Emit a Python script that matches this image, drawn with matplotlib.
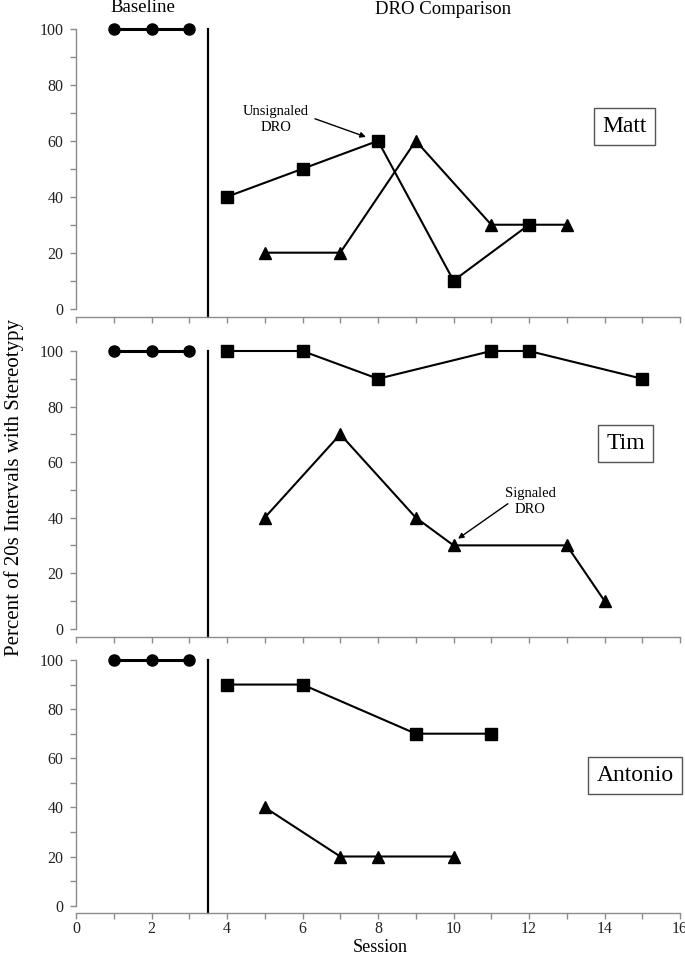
import matplotlib
matplotlib.use("Agg")
import matplotlib.pyplot as plt
from matplotlib.ticker import MultipleLocator

plt.rcParams['font.family'] = ['Liberation Serif', 'DejaVu Serif']

names = ["Matt", "Tim", "Antonio"]

baseline_x = [1, 2, 3]
baseline_y = [100, 100, 100]

matt_sq_x = [4, 6, 8, 10, 12]
matt_sq_y = [40, 50, 60, 10, 30]
matt_tri_x = [5, 7, 9, 11, 13]
matt_tri_y = [20, 20, 60, 30, 30]

tim_sq_x = [4, 6, 8, 11, 12, 15]
tim_sq_y = [100, 100, 90, 100, 100, 90]
tim_tri_x = [5, 7, 9, 10, 13, 14]
tim_tri_y = [40, 70, 40, 30, 30, 10]

ant_sq_x = [4, 6, 9, 11]
ant_sq_y = [90, 90, 70, 70]
ant_tri_x = [5, 7, 8, 10]
ant_tri_y = [40, 20, 20, 20]

x_ticks = [0, 2, 4, 6, 8, 10, 12, 14, 16]
y_ticks = [0, 20, 40, 60, 80, 100]

fig = plt.figure(figsize=(6.85, 9.56), dpi=100)
W, H = 685, 956
left = 76 / W
width = 604 / W
# (top px, bottom px)
panels_px = [(29, 317), (351, 637), (660, 913)]
series = [
    (matt_sq_x, matt_sq_y, matt_tri_x, matt_tri_y),
    (tim_sq_x, tim_sq_y, tim_tri_x, tim_tri_y),
    (ant_sq_x, ant_sq_y, ant_tri_x, ant_tri_y),
]
box_pos = [(14.53, 65.2), (14.56, 66.7), (14.81, 53.0)]
spine_col = "#8c8c8c"
axes = []
for i, ((top, bot), (sx, sy, tx, ty)) in enumerate(zip(panels_px, series)):
    ax = fig.add_axes([left, 1 - bot / H, width, (bot - top) / H])
    axes.append(ax)
    ax.set_xlim(0, 16)
    ax.set_ylim(-3, 100)
    for s in ["top", "right"]:
        ax.spines[s].set_visible(False)
    for s in ["left", "bottom"]:
        ax.spines[s].set_color(spine_col)
        ax.spines[s].set_linewidth(1.0)
    ax.spines["left"].set_bounds(0, 100)
    ax.yaxis.set_major_locator(MultipleLocator(20))
    ax.yaxis.set_minor_locator(MultipleLocator(10))
    ax.xaxis.set_major_locator(MultipleLocator(2))
    ax.xaxis.set_minor_locator(MultipleLocator(1))
    ax.tick_params(axis="both", which="both", direction="out", color=spine_col,
                   length=4, width=1.0, labelsize=11.5, labelcolor="#222222")
    ax.tick_params(axis="y", pad=5)
    if i < 2:
        ax.tick_params(axis="x", labelbottom=False)
    else:
        ax.tick_params(axis="x", pad=1.5)
        ax.set_xticks(x_ticks)
    ax.set_yticks(y_ticks)

    ax.plot(baseline_x, baseline_y, color="black", lw=2.2, marker="o", ms=8, clip_on=False, zorder=3)
    ax.plot(sx, sy, color="black", lw=1.5, marker="s", ms=8.5, clip_on=False, zorder=3)
    ax.plot(tx, ty, color="black", lw=1.5, marker="^", ms=8.5, clip_on=False, zorder=3)
    ax.plot([3.5, 3.5], [100, -3], color="black", lw=1.6, clip_on=False, zorder=2)

    bx, by = box_pos[i]
    ax.text(bx, by, names[i], fontsize=17, ha="center", va="center",
            bbox=dict(boxstyle="square,pad=0.35", fc="white", ec="#555555", lw=1.0))

arrow_kw = dict(arrowstyle="-|>", color="black", lw=1.0, mutation_scale=8, shrinkA=0, shrinkB=0)
axes[0].text(5.30, 67.5, "Unsignaled\nDRO", fontsize=10.5, ha="center", va="center", linespacing=1.3)
axes[0].annotate("", xy=(7.68, 61.4), xytext=(6.33, 67.9), arrowprops=arrow_kw)
axes[1].text(12.03, 45.7, "Signaled\nDRO", fontsize=10.5, ha="center", va="center", linespacing=1.3)
axes[1].annotate("", xy=(10.12, 32.4), xytext=(11.44, 45.0), arrowprops=arrow_kw)

fig.text(143 / W, 1 - 8 / H, "Baseline", fontsize=13.5, ha="center", va="center")
fig.text(443 / W, 1 - 10 / H, "DRO Comparison", fontsize=13.5, ha="center", va="center")
fig.text(14 / W, 1 - 488 / H, "Percent of 20s Intervals with Stereotypy", fontsize=15,
         rotation=90, ha="center", va="center")
fig.text(380 / W, 1 - 948 / H, "Session", fontsize=13, ha="center", va="center")

fig.savefig("out.png", dpi=100)
